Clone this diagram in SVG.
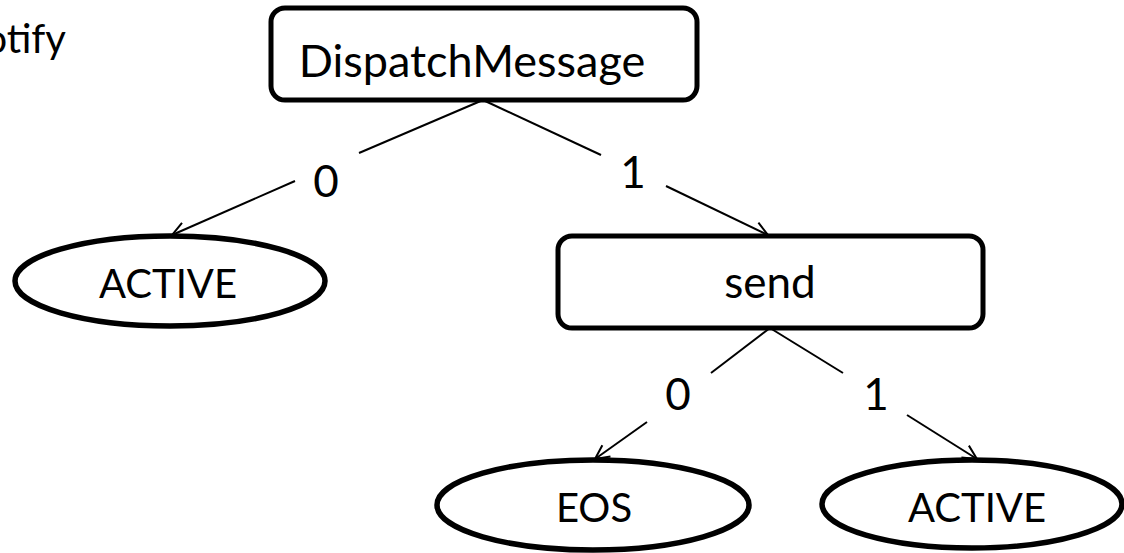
<svg xmlns="http://www.w3.org/2000/svg" width="1124" height="553" viewBox="0 0 1124 553">
  <style>
    .lbl { font-family: Lato, "Liberation Sans", sans-serif; font-size: 44px; fill: #000; text-anchor: middle; }
    .box { fill: #fff; stroke: #000; stroke-width: 5; }
    .oval { fill: #fff; stroke: #000; stroke-width: 5.5; }
    .edge { fill: none; stroke: #000; stroke-width: 2; }
  </style>
  <defs>
    <marker id="open-arrow" viewBox="-16 -10 20 20" refX="0" refY="0" markerWidth="20" markerHeight="20" markerUnits="userSpaceOnUse" orient="auto">
      <path d="M-14,-7 L0,0 L-14,7" fill="none" stroke="#000" stroke-width="2"/>
    </marker>
  </defs>
  <rect width="1124" height="553" fill="#fff"/>

  <!-- caption running off the left edge -->
  <text class="lbl" x="66" y="53" style="text-anchor:end;font-size:40px">otify</text>

  <g id="connectors">
    <!-- DispatchMessage -> ACTIVE (0) -->
    <line class="edge" x1="483" y1="100" x2="359" y2="153"/>
    <line class="edge" x1="295" y1="181" x2="172" y2="235" marker-end="url(#open-arrow)"/>
    <text class="lbl" x="326" y="197">0</text>
    <!-- DispatchMessage -> send (1) -->
    <line class="edge" x1="483" y1="100" x2="601" y2="155"/>
    <line class="edge" x1="666" y1="186" x2="768" y2="235" marker-end="url(#open-arrow)"/>
    <text class="lbl" x="633" y="188">1</text>
    <!-- send -> EOS (0) -->
    <line class="edge" x1="770" y1="328" x2="711" y2="373"/>
    <line class="edge" x1="647" y1="422" x2="595" y2="459" marker-end="url(#open-arrow)"/>
    <text class="lbl" x="678" y="410">0</text>
    <!-- send -> ACTIVE (1) -->
    <line class="edge" x1="770" y1="328" x2="843" y2="373"/>
    <line class="edge" x1="907" y1="415" x2="977" y2="459" marker-end="url(#open-arrow)"/>
    <text class="lbl" x="876" y="410">1</text>
  </g>

  <g id="node-dispatch">
    <rect class="box" x="271" y="8" width="426" height="92" rx="14"/>
    <text class="lbl" x="472" y="77" style="font-size:45px">DispatchMessage</text>
  </g>
  <g id="node-active-left">
    <ellipse class="oval" cx="170" cy="281" rx="155" ry="45"/>
    <text class="lbl" x="168" y="298" style="font-size:40px">ACTIVE</text>
  </g>
  <g id="node-send">
    <rect class="box" x="558" y="236" width="425" height="92" rx="14"/>
    <text class="lbl" x="770" y="298">send</text>
  </g>
  <g id="node-eos">
    <ellipse class="oval" cx="593" cy="505" rx="156" ry="45"/>
    <text class="lbl" x="594" y="522" style="font-size:40px">EOS</text>
  </g>
  <g id="node-active-right">
    <ellipse class="oval" cx="972" cy="504" rx="150" ry="44"/>
    <text class="lbl" x="977" y="522" style="font-size:40px">ACTIVE</text>
  </g>
</svg>
